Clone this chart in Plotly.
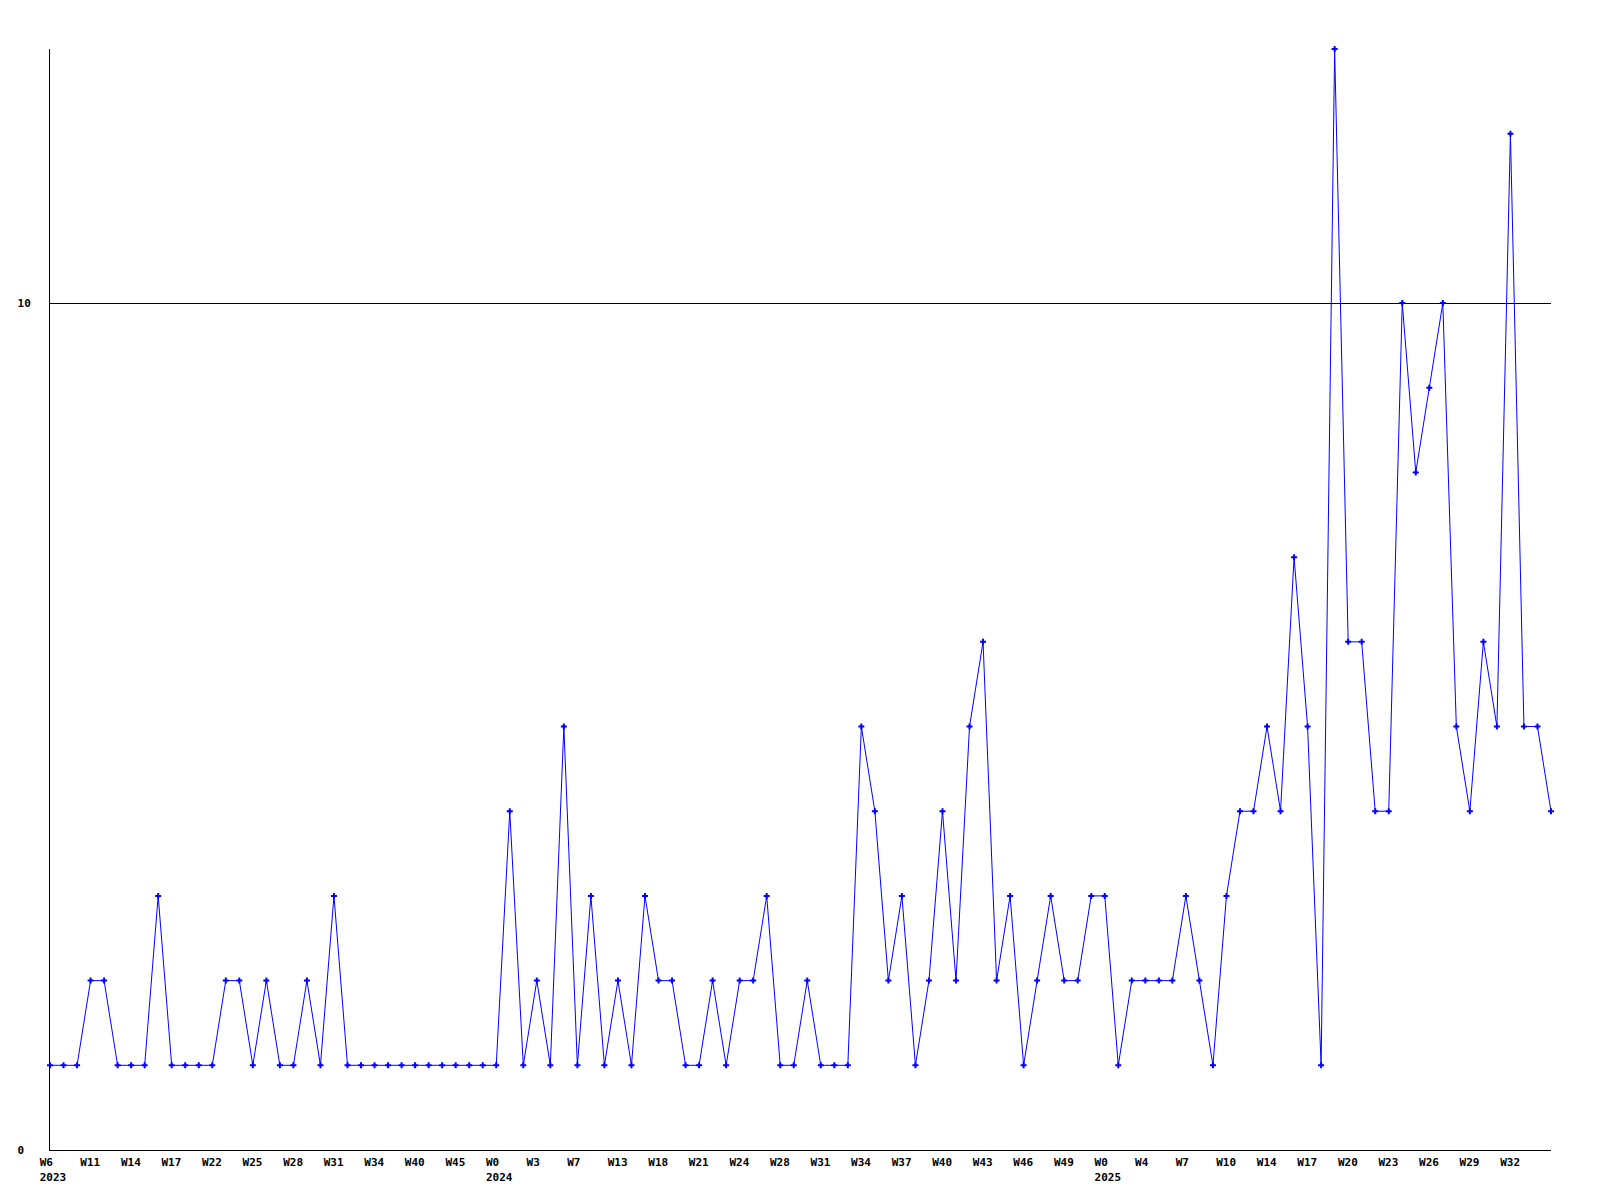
import plotly.graph_objects as go

# Weekly counts (one value per week, in order)
values = [
    1, 1, 1, 2, 2, 1, 1, 1, 3, 1, 1, 1, 1, 2, 2, 1, 2, 1, 1, 2, 1, 3, 1, 1, 1, 1, 1, 1,
    1, 1, 1, 1, 1, 1, 4, 1, 2, 1, 5, 1, 3, 1, 2, 1, 3, 2, 2, 1, 1, 2, 1, 2, 2, 3, 1, 1, 2, 1,
    1, 1, 5, 4, 2, 3, 1, 2, 4, 2, 5, 6, 2, 3, 1, 2, 3, 2, 2, 3, 3, 1, 2, 2, 2, 2, 3, 2, 1, 3,
    4, 4, 5, 4, 7, 5, 1, 13, 6, 6, 4, 4, 10, 8, 9, 10, 5, 4, 6, 5, 12, 5, 5, 4,
]

# X tick labels (one every third week)
tick_labels = [
    "W6<br>2023", "W11", "W14", "W17", "W22", "W25", "W28", "W31", "W34", "W40", "W45",
    "W0<br>2024", "W3", "W7", "W13", "W18", "W21", "W24", "W28", "W31", "W34", "W37",
    "W40", "W43", "W46", "W49", "W0<br>2025", "W4", "W7", "W10", "W14", "W17", "W20",
    "W23", "W26", "W29", "W32",
]
y_ticks = [0, 10]
y_tick_labels = ["0\u00a0", "10"]

TICK_STEP = 3
x = list(range(len(values)))
tick_positions = [i * TICK_STEP for i in range(len(tick_labels))]


def left_pad(label, width=4):
    # pad every line to the same width so centred monospace text reads left-aligned
    return "<br>".join(line + "\u00a0" * (width - len(line)) for line in label.split("<br>"))


tick_text = [left_pad(t) for t in tick_labels]

font = dict(family="DejaVu Sans Mono", size=11, color="black", weight="bold")

fig = go.Figure(
    go.Scatter(
        x=x,
        y=values,
        mode="lines+markers",
        line=dict(color="#0000ff", width=1),
        marker=dict(symbol="cross", size=5, color="#0000ff", line=dict(width=0)),
        cliponaxis=False,
        hoverinfo="x+y",
    )
)

fig.update_layout(
    width=1584,
    height=1184,
    margin=dict(l=42, r=41, t=41, b=42, autoexpand=False),
    paper_bgcolor="white",
    plot_bgcolor="white",
    showlegend=False,
    font=font,
)

fig.update_xaxes(
    range=[0, len(values) - 1],
    tickmode="array",
    tickvals=tick_positions,
    ticktext=tick_text,
    tickfont=font,
    showgrid=False,
    zeroline=False,
    showline=True,
    linecolor="black",
    linewidth=1,
    ticks="",
    ticklabelstandoff=2,
    ticklabelshift=3,
    automargin=False,
)

fig.update_yaxes(
    range=[0, 13],
    tickmode="array",
    tickvals=y_ticks,
    ticktext=y_tick_labels,
    tickfont=font,
    showgrid=True,
    gridcolor="black",
    gridwidth=1,
    zeroline=False,
    showline=True,
    linecolor="black",
    linewidth=1,
    ticks="",
    ticklabelstandoff=16,
    automargin=False,
)

fig.write_html("out.html")
